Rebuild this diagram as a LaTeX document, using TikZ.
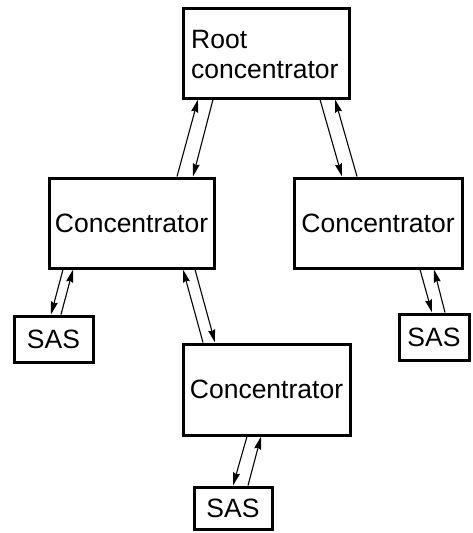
\documentclass[tikz,border=0pt]{standalone}
\usepackage{fontspec}
\setmainfont{Liberation Sans}
\usetikzlibrary{arrows.meta}
\begin{document}
\begin{tikzpicture}[x=1pt,y=-1pt,
  box/.style={draw, line width=3pt, rectangle, inner sep=0pt, font=\fontsize{26.5}{30}\selectfont},
  arr/.style={line width=1.1pt, -{Stealth[length=13pt,width=7pt,inset=1.5pt]}}]
\useasboundingbox (0,0) rectangle (472,533);
\node[box, minimum width=166pt, minimum height=90pt] (root) at (266,53) {};
\node[anchor=base west, font=\fontsize{26.5}{30}\selectfont, inner sep=0pt] (rootA) at (191,48) {Root};
\node[anchor=base west, font=\fontsize{26.5}{30}\selectfont, inner sep=0pt] (rootB) at (191,78) {concentrator};
\node[box, minimum width=165pt, minimum height=90pt] (leftC) at (131.5,223) {Concentrator};
\node[box, minimum width=168pt, minimum height=90pt] (rightC) at (378,223) {Concentrator};
\node[box, minimum width=167pt, minimum height=91pt] (botC) at (266.5,389.5) {Concentrator};
\node[box, minimum width=79pt, minimum height=46pt] (sasL) at (53.5,339) {SAS};
\node[box, minimum width=70pt, minimum height=46pt] (sasR) at (434,337) {SAS};
\node[box, minimum width=78pt, minimum height=42pt] (sasB) at (233,508) {SAS};
% root <-> left
\draw[arr] (177,0 |- leftC.north) -- (198,0 |- root.south);
\draw[arr] (213,0 |- root.south) -- (193,0 |- leftC.north);
% root <-> right
\draw[arr] (320,0 |- root.south) -- (342,0 |- rightC.north);
\draw[arr] (357,0 |- rightC.north) -- (335,0 |- root.south);
% left <-> sasL
\draw[arr] (63,0 |- leftC.south) -- (51,0 |- sasL.north);
\draw[arr] (61,0 |- sasL.north) -- (73,0 |- leftC.south);
% left <-> bottom
\draw[arr] (203,0 |- botC.north) -- (183,0 |- leftC.south);
\draw[arr] (195,0 |- leftC.south) -- (215,0 |- botC.north);
% right <-> sasR
\draw[arr] (420,0 |- rightC.south) -- (432,0 |- sasR.north);
\draw[arr] (445,0 |- sasR.north) -- (434,0 |- rightC.south);
% bottom <-> sasB
\draw[arr] (247,0 |- botC.south) -- (233,0 |- sasB.north);
\draw[arr] (248,0 |- sasB.north) -- (261,0 |- botC.south);
\end{tikzpicture}
\end{document}
